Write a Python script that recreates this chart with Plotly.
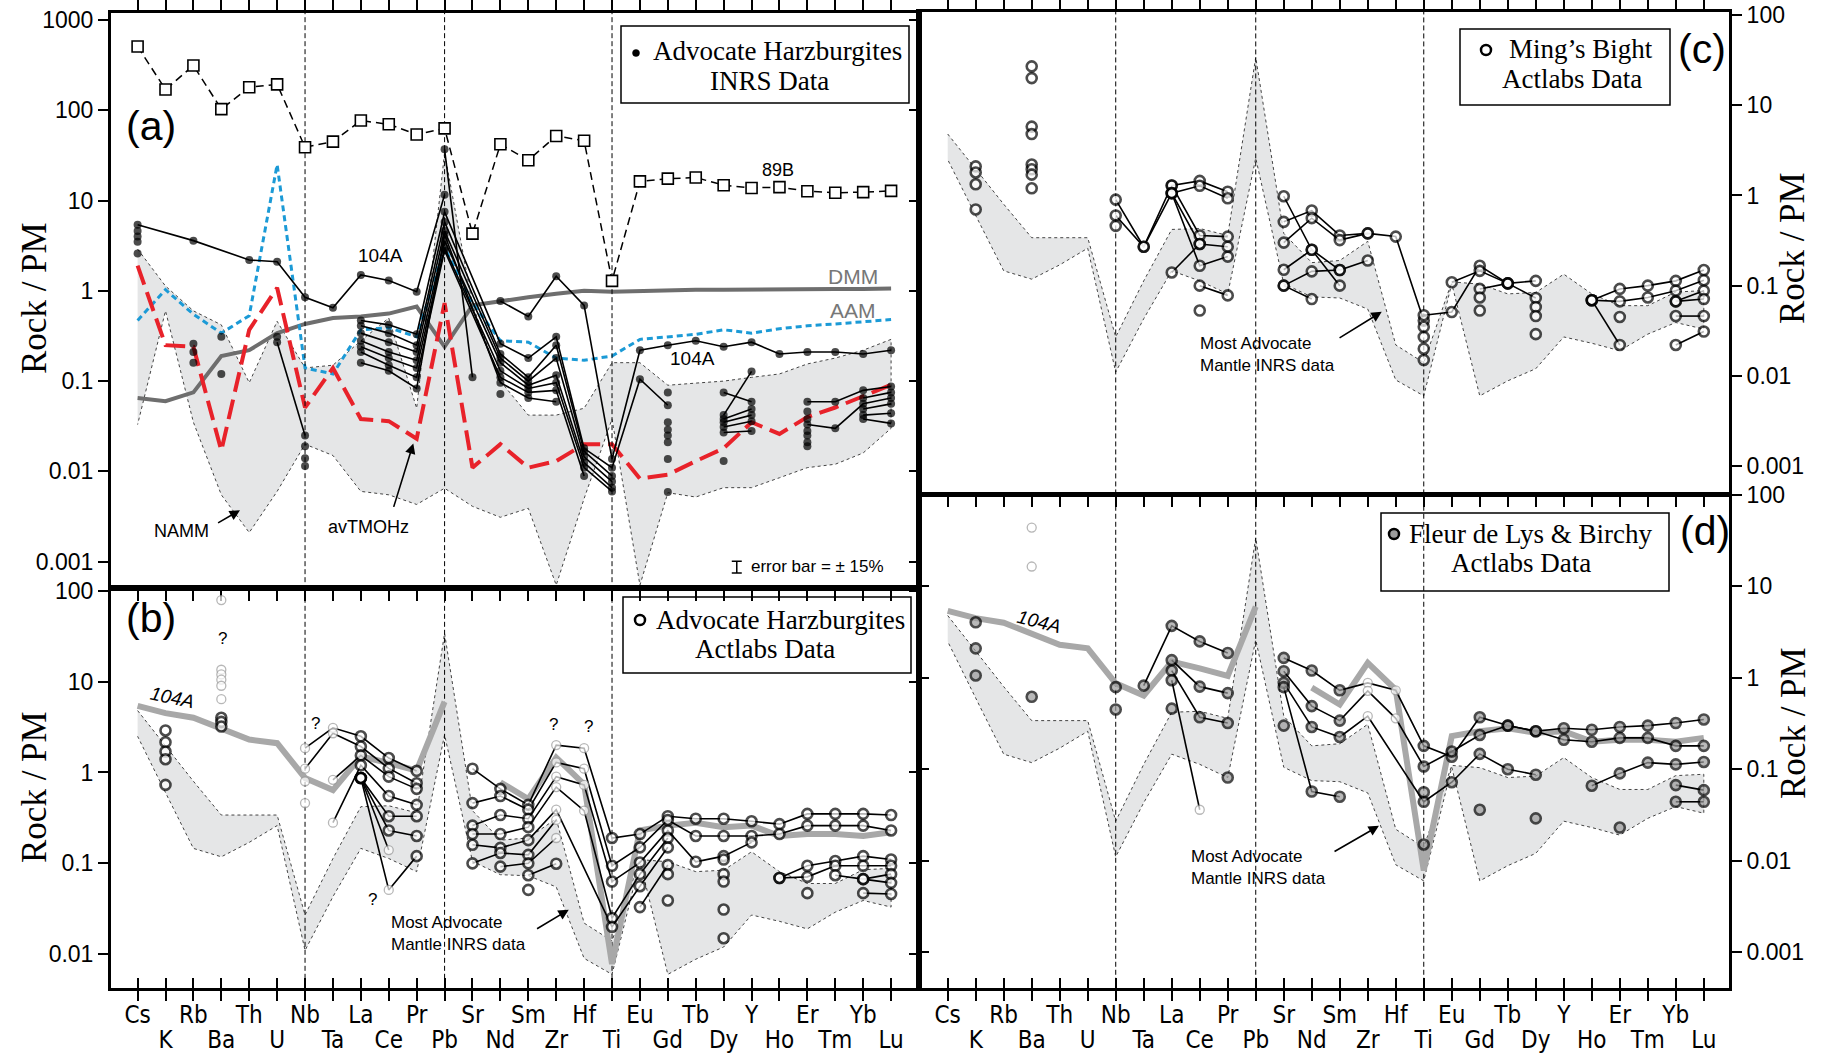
import numpy as np
import plotly.graph_objects as go

W, H = 1827, 1055

ELEMENTS = ["Cs", "K", "Rb", "Ba", "Th", "U", "Nb", "Ta", "La", "Ce", "Pr", "Pb",
            "Sr", "Nd", "Sm", "Zr", "Hf", "Ti", "Eu", "Gd", "Tb", "Dy", "Y", "Ho",
            "Er", "Tm", "Yb", "Lu"]
XI = {e: i for i, e in enumerate(ELEMENTS)}
LABELS_UPPER = [e if i % 2 == 0 else "" for i, e in enumerate(ELEMENTS)]
LABELS_LOWER = [e if i % 2 == 1 else "" for i, e in enumerate(ELEMENTS)]

# ---- reference mantle patterns (rock / primitive mantle), panel (a) ----
DMM = [0.065, 0.06, 0.075, 0.19, 0.22, 0.34, 0.43, 0.50, 0.52, 0.56, 0.67, 0.24,
       0.69, 0.77, 0.85, 0.93, 1.00, 0.98, 1.00, 1.02, 1.03, 1.03, 1.04, 1.04,
       1.05, 1.05, 1.05, 1.06]
AAM = [0.47, 1.03, 0.55, 0.34, 0.53, 25.0, 0.14, 0.12, 0.37, 0.39, 0.31, 3.0,
       0.73, 0.28, 0.27, 0.18, 0.17, 0.19, 0.29, 0.31, 0.33, 0.37, 0.34, 0.38,
       0.41, 0.43, 0.45, 0.48]
AV_TMOHZ = [1.9, 0.25, 0.24, 0.017, 0.37, 1.08, 0.051, 0.14, 0.038, 0.036, 0.023, 0.73,
            0.011, 0.020, 0.011, 0.013, 0.020, 0.020, 0.0083, 0.0092, 0.013, 0.018,
            0.035, 0.026, 0.040, 0.051, 0.068, 0.091]
S89B = [510, 170, 314, 103, 180, 194, 39, 45, 77, 70, 54, 63, 4.3, 42, 28, 52, 46,
        1.29, 16.3, 17.5, 18, 14.8, 13.8, 14.1, 12.7, 12.2, 12.4, 12.8]

# NAMM field (panel a)
NAMM_UP = [2.9, 1.13, 0.60, 0.42, 0.096, 0.46, 0.14, 0.15, 0.28, 0.50, 0.05, 34,
           0.70, 0.10, 0.042, 0.042, 0.05, 0.16, 0.16, 0.09, 0.095, 0.10, 0.11, 0.12,
           0.155, 0.18, 0.22, 0.29]
NAMM_LO = [0.033, 0.60, 0.035, 0.0055, 0.0021, 0.006, 0.02, 0.015, 0.006, 0.0055, 0.0043,
           0.0065, 0.0041, 0.0031, 0.0039, 0.00055, 0.005, 0.038, 0.00055, 0.0058,
           0.0052, 0.0066, 0.0066, 0.0085, 0.011, 0.012, 0.016, 0.03]

# field of most Advocate mantle INRS data (panels b-d)
ENV_UP = [4.8, 1.96, 0.80, 0.34, 0.34, 0.34, 0.027, 0.113, 0.42, 0.43, 0.36, 34,
          0.38, 0.18, 0.19, 0.31, 0.022, 0.014, 0.11, 0.104, 0.081, 0.084, 0.134,
          0.081, 0.06, 0.06, 0.085, 0.088]
ENV_LO = [2.5, 0.60, 0.146, 0.118, 0.17, 0.26, 0.011, 0.043, 0.146, 0.113, 0.081, 2.6,
          0.105, 0.075, 0.073, 0.055, 0.009, 0.006, 0.105, 0.006, 0.0088, 0.012,
          0.027, 0.023, 0.019, 0.029, 0.039, 0.033]

# sample 104A, Actlabs analysis (grey reference line in b and d)
S104A_ACT = [5.4, 4.5, 4.0, 3.0, 2.3, 2.1, 0.87, 0.64, 1.5, 1.27, 1.05, 6.0, None,
             0.78, 0.51, 1.46, 0.74, 0.0078, 0.23, 0.26, 0.28, 0.25, 0.26, 0.20,
             0.21, 0.21, 0.20, 0.22]

# ---- (a) Advocate harzburgites, INRS data ----
A_CHAINS = [
    {"Cs": 5.4, "Rb": 3.6, "Th": 2.2, "U": 2.1, "Nb": 0.85, "Ta": 0.65, "La": 1.5,
     "Ce": 1.3, "Pr": 0.98, "Pb": 11.6},
    {"Nd": 0.77, "Sm": 0.52, "Zr": 1.45, "Hf": 0.69, "Ti": 0.0137, "Eu": 0.22, "Gd": 0.25,
     "Tb": 0.28, "Dy": 0.24, "Y": 0.27, "Ho": 0.20, "Er": 0.21, "Tm": 0.21, "Yb": 0.20,
     "Lu": 0.22},
    {"Cs": 4.6}, {"Cs": 4.0}, {"Cs": 3.5}, {"Cs": 2.6},
    {"Rb": 0.26}, {"Rb": 0.21}, {"Rb": 0.16},
    {"Ba": 0.31}, {"Ba": 0.12},
    {"U": 0.31}, {"U": 0.27, "Nb": 0.025},
    {"Nb": 0.019}, {"Nb": 0.014}, {"Nb": 0.0115},
    {"La": 0.47, "Ce": 0.42, "Pr": 0.33, "Pb": 7.5, "Nd": 0.26, "Sm": 0.18, "Zr": 0.31,
     "Hf": 0.018, "Ti": 0.011, "Eu": 0.105, "Gd": 0.054},
    {"La": 0.41, "Ce": 0.34, "Pr": 0.25, "Pb": 5.8, "Nd": 0.20, "Sm": 0.11, "Zr": 0.25,
     "Hf": 0.0167, "Ti": 0.0089},
    {"La": 0.34, "Ce": 0.27, "Pr": 0.21, "Pb": 4.6, "Nd": 0.18, "Sm": 0.10, "Zr": 0.18,
     "Hf": 0.0145, "Ti": 0.0077},
    {"La": 0.28, "Ce": 0.21, "Pr": 0.17, "Pb": 3.6, "Nd": 0.16, "Sm": 0.09, "Zr": 0.116,
     "Hf": 0.0125, "Ti": 0.0066},
    {"La": 0.24, "Ce": 0.18, "Pr": 0.14, "Pb": 3.0, "Nd": 0.13, "Sm": 0.083, "Zr": 0.096,
     "Hf": 0.011, "Ti": 0.006},
    {"La": 0.21, "Ce": 0.15, "Pr": 0.11, "Pb": 2.8, "Nd": 0.11, "Sm": 0.075, "Zr": 0.079,
     "Hf": 0.0089},
    {"La": 0.16, "Ce": 0.13, "Pr": 0.083, "Pb": 4.2, "Nd": 0.096, "Sm": 0.065, "Zr": 0.059},
    {"Pb": 37, "Sr": 0.11},
    {"Nd": 0.072},
    {"Gd": 0.075}, {"Gd": 0.035}, {"Gd": 0.029}, {"Gd": 0.025}, {"Gd": 0.021},
    {"Gd": 0.0137}, {"Gd": 0.0059},
    {"Dy": 0.075, "Y": 0.059}, {"Dy": 0.042, "Y": 0.128}, {"Dy": 0.038, "Y": 0.049},
    {"Dy": 0.035, "Y": 0.042}, {"Dy": 0.031, "Y": 0.036}, {"Dy": 0.027, "Y": 0.028},
    {"Dy": 0.013},
    {"Er": 0.059, "Tm": 0.059, "Yb": 0.079, "Lu": 0.087},
    {"Er": 0.033, "Tm": 0.030, "Yb": 0.056, "Lu": 0.065},
    {"Er": 0.046}, {"Er": 0.038}, {"Er": 0.028}, {"Er": 0.025}, {"Er": 0.021}, {"Er": 0.019},
    {"Yb": 0.065, "Lu": 0.075}, {"Yb": 0.049, "Lu": 0.056}, {"Yb": 0.042, "Lu": 0.044},
    {"Yb": 0.038, "Lu": 0.034},
]

# ---- (b) Advocate harzburgites, Actlabs data ----
B_CHAINS = [
    {"K": 2.9}, {"K": 2.15}, {"K": 1.7}, {"K": 1.4}, {"K": 0.73},
    {"Ba": 4.0}, {"Ba": 3.6}, {"Ba": 3.2},
    {"Ba": 79}, {"Ba": 13.5}, {"Ba": 12}, {"Ba": 10.5}, {"Ba": 9}, {"Ba": 6.4},
    {"Nb": 1.85, "Ta": 3.1, "La": 2.5, "Ce": 1.44, "Pr": 1.04},
    {"Nb": 1.1, "Ta": 2.7, "La": 1.93, "Ce": 1.11, "Pr": 0.76},
    {"Nb": 0.8}, {"Nb": 0.46},
    {"Ta": 0.83, "La": 1.54, "Ce": 0.9, "Pr": 0.66},
    {"Ta": 0.28, "La": 1.2, "Ce": 0.55, "Pr": 0.44},
    {"La": 0.87, "Ce": 0.33, "Pr": 0.33},
    {"La": 0.87, "Ce": 0.23, "Pr": 0.2},
    {"La": 0.87, "Ce": 0.14},
    {"La": 0.87, "Ce": 0.051, "Pr": 0.12},
    {"Sr": 1.1, "Nd": 0.66, "Sm": 0.44, "Zr": 2.0, "Hf": 1.85, "Ti": 0.19, "Eu": 0.21,
     "Gd": 0.33, "Tb": 0.31, "Dy": 0.31, "Y": 0.29, "Ho": 0.27, "Er": 0.35, "Tm": 0.35,
     "Yb": 0.35, "Lu": 0.34},
    {"Sr": 0.46, "Nd": 0.55, "Sm": 0.39, "Zr": 1.29, "Hf": 1.1, "Ti": 0.094, "Eu": 0.15,
     "Gd": 0.30, "Tb": 0.20, "Dy": 0.20, "Y": 0.20, "Ho": 0.21, "Er": 0.26, "Tm": 0.26,
     "Yb": 0.26, "Lu": 0.23},
    {"Sr": 0.26, "Nd": 0.34, "Sm": 0.31, "Zr": 0.9, "Hf": 0.73, "Ti": 0.063, "Eu": 0.102,
     "Gd": 0.23, "Tb": 0.104, "Dy": 0.12, "Y": 0.17},
    {"Sr": 0.21, "Nd": 0.21, "Sm": 0.25, "Zr": 0.69, "Hf": 0.38, "Ti": 0.025, "Eu": 0.076,
     "Gd": 0.19},
    {"Sr": 0.16, "Nd": 0.148, "Sm": 0.18, "Zr": 0.39, "Ti": 0.02, "Eu": 0.056, "Gd": 0.15},
    {"Sr": 0.10, "Nd": 0.13, "Sm": 0.124, "Zr": 0.30},
    {"Nd": 0.092, "Sm": 0.10, "Zr": 0.19},
    {"Sm": 0.074, "Zr": 0.099},
    {"Sm": 0.051},
    {"Eu": 0.033, "Gd": 0.096},
    {"Gd": 0.076}, {"Gd": 0.039},
    {"Dy": 0.11}, {"Dy": 0.076}, {"Dy": 0.063}, {"Dy": 0.031}, {"Dy": 0.015},
    {"Ho": 0.069, "Er": 0.094, "Tm": 0.106, "Yb": 0.12, "Lu": 0.11},
    {"Ho": 0.069, "Er": 0.071, "Tm": 0.094, "Yb": 0.094, "Lu": 0.094},
    {"Er": 0.047},
    {"Tm": 0.074, "Yb": 0.067, "Lu": 0.076},
    {"Yb": 0.067, "Lu": 0.061},
    {"Yb": 0.047, "Lu": 0.046},
]
B_QUERY = [("Ba", 79), ("Ba", 13.5), ("Ba", 12), ("Ba", 10.5), ("Ba", 9), ("Ba", 6.4),
           ("Nb", 1.85), ("Nb", 1.1), ("Nb", 0.8), ("Nb", 0.46),
           ("Ta", 3.1), ("Ta", 2.7), ("Ta", 0.83), ("Ta", 0.28),
           ("Ce", 0.14), ("Ce", 0.051),
           ("Zr", 2.0), ("Zr", 1.29), ("Zr", 0.9), ("Zr", 0.69), ("Zr", 0.39),
           ("Zr", 0.30), ("Zr", 0.19),
           ("Hf", 1.85), ("Hf", 1.1), ("Hf", 0.73), ("Hf", 0.38)]

# ---- (c) Ming's Bight, Actlabs data ----
C_CHAINS = [
    {"K": 2.1}, {"K": 1.8}, {"K": 1.33}, {"K": 0.7},
    {"Ba": 27}, {"Ba": 20}, {"Ba": 5.8}, {"Ba": 4.8}, {"Ba": 2.2}, {"Ba": 1.95},
    {"Ba": 1.7}, {"Ba": 1.2},
    {"Nb": 0.9, "Ta": 0.27, "La": 1.29, "Ce": 1.45, "Pr": 1.1},
    {"Nb": 0.6, "Ta": 0.27, "La": 1.06, "Ce": 1.28, "Pr": 0.93},
    {"Nb": 0.46},
    {"La": 1.29, "Ce": 0.36, "Pr": 0.35},
    {"La": 1.06, "Ce": 0.29, "Pr": 0.27},
    {"La": 1.06, "Ce": 0.166, "Pr": 0.21},
    {"La": 0.14, "Ce": 0.29},
    {"Ce": 0.10, "Pr": 0.078},
    {"Ce": 0.053},
    {"Sr": 0.98, "Nd": 0.25, "Sm": 0.149, "Zr": 0.19},
    {"Sr": 0.51, "Nd": 0.68, "Sm": 0.36, "Zr": 0.38, "Hf": 0.35, "Ti": 0.041},
    {"Sr": 0.30, "Nd": 0.56, "Sm": 0.32, "Zr": 0.38},
    {"Sr": 0.15, "Nd": 0.25, "Sm": 0.10},
    {"Sr": 0.10, "Nd": 0.144, "Sm": 0.149},
    {"Sr": 0.10, "Nd": 0.071},
    {"Ti": 0.047, "Eu": 0.051, "Gd": 0.166, "Tb": 0.106, "Dy": 0.113},
    {"Eu": 0.109, "Gd": 0.146, "Tb": 0.106, "Dy": 0.073},
    {"Gd": 0.092, "Tb": 0.106},
    {"Gd": 0.074}, {"Gd": 0.053},
    {"Ti": 0.035}, {"Ti": 0.027}, {"Ti": 0.020}, {"Ti": 0.015},
    {"Dy": 0.058}, {"Dy": 0.046}, {"Dy": 0.029},
    {"Ho": 0.069, "Er": 0.092, "Tm": 0.10, "Yb": 0.113, "Lu": 0.149},
    {"Ho": 0.069, "Er": 0.067, "Tm": 0.074, "Yb": 0.088, "Lu": 0.115},
    {"Ho": 0.069, "Er": 0.022},
    {"Er": 0.045},
    {"Yb": 0.067, "Lu": 0.088},
    {"Yb": 0.067, "Lu": 0.071},
    {"Yb": 0.046, "Lu": 0.046},
    {"Yb": 0.022, "Lu": 0.031},
]

# ---- (d) Fleur de Lys & Birchy, Actlabs data ----
D_CHAINS = [
    {"K": 4.05}, {"K": 2.1}, {"K": 1.06},
    {"Ba": 0.62}, {"Ba": 44}, {"Ba": 16.5},
    {"Nb": 0.79}, {"Nb": 0.45},
    {"Ta": 0.82, "La": 3.7, "Ce": 2.5, "Pr": 1.87},
    {"La": 1.56, "Ce": 0.8, "Pr": 0.68},
    {"La": 1.2, "Ce": 0.37, "Pr": 0.32},
    {"La": 0.94, "Ce": 0.036},
    {"La": 0.46}, {"Pr": 0.081},
    {"Sr": 1.65, "Nd": 1.2, "Sm": 0.73, "Zr": 0.88, "Hf": 0.73, "Ti": 0.18, "Eu": 0.137,
     "Gd": 0.37, "Tb": 0.30, "Dy": 0.26, "Y": 0.28, "Ho": 0.27, "Er": 0.29, "Tm": 0.30,
     "Yb": 0.32, "Lu": 0.35},
    {"Sr": 1.18, "Nd": 0.49, "Sm": 0.34, "Zr": 0.72, "Hf": 0.36, "Ti": 0.107, "Eu": 0.156,
     "Gd": 0.237, "Tb": 0.30, "Dy": 0.26, "Y": 0.21, "Ho": 0.20, "Er": 0.22, "Tm": 0.22,
     "Yb": 0.18, "Lu": 0.18},
    {"Sr": 0.88, "Nd": 0.29, "Sm": 0.225, "Zr": 0.38, "Ti": 0.044, "Eu": 0.072,
     "Gd": 0.147, "Tb": 0.10, "Dy": 0.087},
    {"Sr": 0.79, "Nd": 0.057, "Sm": 0.05},
    {"Sr": 0.30},
    {"Ti": 0.056}, {"Ti": 0.015},
    {"Gd": 0.036}, {"Dy": 0.029}, {"Er": 0.023},
    {"Ho": 0.066, "Er": 0.09, "Tm": 0.118, "Yb": 0.113, "Lu": 0.12},
    {"Yb": 0.067, "Lu": 0.059},
    {"Yb": 0.044, "Lu": 0.044},
]
D_QUERY = [("Ba", 44), ("Ba", 16.5), ("Ce", 0.036), ("Zr", 0.88), ("Zr", 0.72),
           ("Zr", 0.38), ("Hf", 0.73), ("Hf", 0.36)]

# ---------------------------------------------------------------------------
SANS = "Liberation Sans, Arial, Helvetica, sans-serif"
SERIF = "Liberation Serif, Times New Roman, serif"
NARROW = "Liberation Sans Narrow, Arial Narrow, DejaVu Sans Condensed, sans-serif"


def px_x(v):
    return v / W


def px_y(v):
    return 1 - v / H


AX = {"a": ("x", "y"), "b": ("x2", "y2"), "c": ("x3", "y3"), "d": ("x4", "y4")}
YRANGE = {"a": [-3.292, 3.078], "b": [-2.372, 2.03], "c": [-3.31, 2.034], "d": [-3.394, 2.0]}
XR_LEFT = [-0.953, 28.0]
XR_RIGHT = [-1.025, 27.9]

fig = go.Figure()


def add(panel, **kw):
    xa, ya = AX[panel]
    fig.add_trace(go.Scatter(xaxis=xa, yaxis=ya, showlegend=False, hoverinfo="skip", **kw))


def field(panel, up, lo):
    xs = list(range(len(ELEMENTS))) + list(range(len(ELEMENTS) - 1, -1, -1))
    add(panel, x=xs, y=list(up) + list(lo)[::-1], mode="lines", fill="toself",
        fillcolor="#e5e6e7", line=dict(color="#444", width=1, dash="dot"))


def dividers(panel):
    for el in ("Nb", "Pb", "Ti"):
        add(panel, x=[XI[el], XI[el]], y=[1e-5, 1e4], mode="lines",
            line=dict(color="black", width=1, dash="5px,3px"))


def chains(panel, data, query, size, fill, edge, lw):
    qset = set(query)
    for ch in data:
        if len(ch) > 1:
            add(panel, x=[XI[e] for e in ch], y=list(ch.values()), mode="lines",
                line=dict(color="black", width=1.6))
    xs, ys, sz, fc, ec, ew = [], [], [], [], [], []
    for ch in data:
        for e, v in ch.items():
            xs.append(XI[e])
            ys.append(v)
            if (e, v) in qset:
                sz.append(size - 1)
                fc.append("white")
                ec.append("#9a9a9a")
                ew.append(1.3)
            else:
                sz.append(size)
                fc.append(fill)
                ec.append(edge)
                ew.append(lw)
    add(panel, x=xs, y=ys, mode="markers",
        marker=dict(symbol="circle", size=sz, color=fc, line=dict(color=ec, width=ew)))


XIDX = list(range(len(ELEMENTS)))

# ---- panel (a)
field("a", NAMM_UP, NAMM_LO)
add("a", x=XIDX, y=DMM, mode="lines", line=dict(color="#6e6e6e", width=4))
add("a", x=XIDX, y=AAM, mode="lines", line=dict(color="#1b9ad6", width=3, dash="6px,4px"))
add("a", x=XIDX, y=AV_TMOHZ, mode="lines", line=dict(color="#e8222a", width=4, dash="20px,8px"))
dividers("a")
add("a", x=XIDX, y=S89B, mode="lines+markers", line=dict(color="black", width=1.5, dash="8px,5px"),
    marker=dict(symbol="square", size=11, color="white", line=dict(color="black", width=1.6)))
chains("a", A_CHAINS, [], 8, "black", "black", 0)
add("a", x=[21.47], y=[0.00088], mode="markers", marker=dict(size=1, color="rgba(0,0,0,0)"),
    error_y=dict(type="percent", value=15, color="black", thickness=1.5, width=5))

# ---- panel (b)
field("b", ENV_UP, ENV_LO)
dividers("b")
add("b", x=XIDX, y=S104A_ACT, mode="lines", line=dict(color="#a8a8a8", width=6))
chains("b", B_CHAINS, B_QUERY, 10, "white", "black", 2.6)

# ---- panel (c)
field("c", ENV_UP, ENV_LO)
dividers("c")
chains("c", C_CHAINS, [], 10, "white", "black", 2.6)

# ---- panel (d)
field("d", ENV_UP, ENV_LO)
dividers("d")
add("d", x=XIDX, y=S104A_ACT, mode="lines", line=dict(color="#a8a8a8", width=6))
chains("d", D_CHAINS, D_QUERY, 10, "#9c9c9c", "black", 2.6)

# empty traces that activate the overlay tick axes
for xa, ya in (("x", "y5"), ("x5", "y2"), ("x2", "y6"), ("x6", "y4"), ("x4", "y7")):
    fig.add_trace(go.Scatter(x=[], y=[], xaxis=xa, yaxis=ya, showlegend=False, hoverinfo="skip"))

# ---------------------------------------------------------------------------
XCOMMON = dict(tickmode="array", tickvals=XIDX, showgrid=False, zeroline=False,
               showline=True, linecolor="black", linewidth=3, tickcolor="black",
               tickwidth=2, ticklen=10, automargin=False)
XLAB = dict(tickfont=dict(family=NARROW, size=24, color="black"))
DOM_XL = [px_x(111), px_x(919)]
DOM_XR = [px_x(919), px_x(1729)]


def ydec(lo, hi):
    vals = [10.0 ** k for k in range(lo, hi + 1)]
    return vals, [f"{v:g}" for v in vals]


YCOMMON = dict(type="log", showgrid=False, zeroline=False, linecolor="black", linewidth=3,
               tickcolor="black", tickwidth=2, ticklen=10, automargin=False,
               tickfont=dict(family=SANS, size=23, color="black"))

ya_v, ya_t = ydec(-3, 3)
yb_v, yb_t = ydec(-2, 2)
yc_v, yc_t = ydec(-3, 2)

fig.update_layout(
    template="none",
    width=W, height=H, margin=dict(l=0, r=0, t=0, b=0, pad=0, autoexpand=False),
    paper_bgcolor="white", plot_bgcolor="white", showlegend=False,
    xaxis=dict(domain=DOM_XL, anchor="y", range=XR_LEFT, ticks="outside", mirror="ticks",
               showticklabels=False, **XCOMMON),
    xaxis2=dict(domain=DOM_XL, anchor="y2", range=XR_LEFT, ticks="outside", mirror=True,
                ticktext=LABELS_UPPER, ticklabelstandoff=-7, **XCOMMON, **XLAB),
    xaxis5=dict(overlaying="x2", anchor="y2", side="bottom", range=XR_LEFT, ticks="inside",
                ticktext=LABELS_LOWER, ticklabelstandoff=35,
                **{**XCOMMON, "showline": False}, **XLAB),
    xaxis3=dict(domain=DOM_XR, anchor="y3", range=XR_RIGHT, ticks="outside", mirror="ticks",
                showticklabels=False, **XCOMMON),
    xaxis4=dict(domain=DOM_XR, anchor="y4", range=XR_RIGHT, ticks="outside", mirror=True,
                ticktext=LABELS_UPPER, ticklabelstandoff=-7, **XCOMMON, **XLAB),
    xaxis6=dict(overlaying="x4", anchor="y4", side="bottom", range=XR_RIGHT, ticks="inside",
                ticktext=LABELS_LOWER, ticklabelstandoff=35,
                **{**XCOMMON, "showline": False}, **XLAB),
    yaxis=dict(domain=[px_y(588), px_y(13)], anchor="x", range=YRANGE["a"], side="left",
               tickmode="array", tickvals=ya_v, ticktext=ya_t, ticks="outside", mirror=True,
               showline=True, **YCOMMON),
    yaxis5=dict(overlaying="y", anchor="x", side="right", range=YRANGE["a"], tickmode="array",
                tickvals=ya_v, ticks="inside", showticklabels=False, showline=False, **YCOMMON),
    yaxis2=dict(domain=[px_y(988), px_y(588)], anchor="x2", range=YRANGE["b"], side="left",
                tickmode="array", tickvals=yb_v, ticktext=yb_t, ticks="outside", mirror=True,
                showline=True, **YCOMMON),
    yaxis6=dict(overlaying="y2", anchor="x2", side="right", range=YRANGE["b"], tickmode="array",
                tickvals=yb_v, ticks="inside", showticklabels=False, showline=False, **YCOMMON),
    yaxis3=dict(domain=[px_y(494), px_y(12)], anchor="x3", range=YRANGE["c"], side="right",
                tickmode="array", tickvals=yc_v, ticktext=yc_t, ticks="outside", mirror=True,
                showline=True, **YCOMMON),
    yaxis4=dict(domain=[px_y(988), px_y(495)], anchor="x4", range=YRANGE["d"], side="right",
                tickmode="array", tickvals=yc_v, ticktext=yc_t, ticks="outside", mirror=True,
                showline=True, **YCOMMON),
    yaxis7=dict(overlaying="y4", anchor="x4", side="left", range=YRANGE["d"], tickmode="array",
                tickvals=yc_v, ticks="inside", showticklabels=False, showline=False, **YCOMMON),
)

# ---------------------------------------------------------------------------
ann = []


def note(panel, x, v, text, size=18, color="black", family=SANS, **kw):
    xa, ya = AX[panel]
    opts = dict(xanchor="center", yanchor="middle")
    opts.update(kw)
    ann.append(dict(x=x, y=float(np.log10(v)), xref=xa, yref=ya, text=text, showarrow=False,
                    font=dict(family=family, size=size, color=color), **opts))


def arrow(panel, x0, v0, x1, v1):
    xa, ya = AX[panel]
    ann.append(dict(x=x1, y=float(np.log10(v1)), ax=x0, ay=float(np.log10(v0)), xref=xa, yref=ya,
                    axref=xa, ayref=ya, text="", showarrow=True, arrowhead=2, arrowsize=1.3,
                    arrowwidth=1.6, arrowcolor="black"))


def paper_text(xp, yp, text, size, family=SERIF, **kw):
    ann.append(dict(x=px_x(xp), y=px_y(yp), xref="paper", yref="paper", text=text,
                    xanchor="center", yanchor="middle", showarrow=False,
                    font=dict(family=family, size=size, color="black"), **kw))


# panel (a) labels
note("a", 8.69, 10 ** 0.39, "104A", 19)
note("a", 19.87, 0.18, "104A", 19)
note("a", 22.95, 22, "89B", 18)
note("a", 25.65, 10 ** 0.16, "DMM", 21, "#777777")
note("a", 25.65, 10 ** -0.22, "AAM", 21, "#777777")
note("a", 1.58, 10 ** -2.66, "NAMM", 18)
arrow("a", 2.83, 10 ** -2.58, 3.67, 10 ** -2.43)
note("a", 8.27, 10 ** -2.62, "avTMOHz", 18)
arrow("a", 9.16, 10 ** -2.41, 9.88, 10 ** -1.69)
note("a", 21.9, 0.00088, "error bar = ± 15%", 17, xanchor="left")

# panel (b) labels
note("b", 1.25, 6.6, "<i>104A</i>", 19, textangle=12)
for xq, vq in ((3.06, 29.5), (6.36, 3.5), (8.4, 0.04), (14.9, 3.4), (16.14, 3.2)):
    note("b", xq, vq, "?", 17)
note("b", 9.0, 10 ** -1.77, "Most Advocate<br>Mantle INRS data", 17, xanchor="left", align="left")
arrow("b", 14.26, 10 ** -1.73, 15.45, 10 ** -1.51)

# panel (c) labels
note("c", 8.95, 10 ** -1.76, "Most Advocate<br>Mantle INRS data", 17, xanchor="left", align="left")
arrow("c", 13.94, 10 ** -1.59, 15.5, 10 ** -1.29)

# panel (d) labels
note("d", 3.25, 4.15, "<i>104A</i>", 19, textangle=14)
note("d", 8.6, 10 ** -2.08, "Most Advocate<br>Mantle INRS data", 17, xanchor="left", align="left")
arrow("d", 13.76, 10 ** -1.91, 15.4, 10 ** -1.62)

# panel letters
paper_text(151, 126, "(a)", 41, SANS)
paper_text(151, 618, "(b)", 41, SANS)
paper_text(1702, 49, "(c)", 41, SANS)
paper_text(1705, 531, "(d)", 41, SANS)

# axis titles
for xp, yp in ((34, 298), (34, 787), (1793, 248), (1793, 723)):
    paper_text(xp, yp, "Rock / PM", 35, textangle=-90)

# legend texts
paper_text(777, 51, "Advocate Harzburgites", 27)
paper_text(769, 81, "INRS Data", 27)
paper_text(780, 620, "Advocate Harzburgites", 27)
paper_text(765, 649, "Actlabs Data", 27)
paper_text(1581, 49, "Ming’s Bight", 27)
paper_text(1572, 79, "Actlabs Data", 27)
paper_text(1530, 534, "Fleur de Lys &amp; Birchy", 27)
paper_text(1521, 563, "Actlabs Data", 27)

fig.update_layout(annotations=ann)

# legend frames and symbols
shapes = []
for x0, y0, x1, y1 in ((621, 26, 909, 103), (623, 597, 911, 673),
                       (1460, 29, 1670, 105), (1381, 513, 1669, 591)):
    shapes.append(dict(type="rect", xref="paper", yref="paper", x0=px_x(x0), x1=px_x(x1),
                       y0=px_y(y1), y1=px_y(y0), line=dict(color="black", width=1.5),
                       fillcolor="rgba(0,0,0,0)", layer="above"))
for cx, cy, d, fc, lw in ((636, 53, 7, "black", 0.5), (640, 620, 10, "white", 2.5),
                          (1486, 50, 10, "white", 2.5), (1394, 534, 10, "#9c9c9c", 2.5)):
    shapes.append(dict(type="circle", xref="paper", yref="paper",
                       x0=px_x(cx - d / 2), x1=px_x(cx + d / 2),
                       y0=px_y(cy + d / 2), y1=px_y(cy - d / 2),
                       line=dict(color="black", width=lw), fillcolor=fc, layer="above"))
fig.update_layout(shapes=shapes)

fig.write_html("out.html")
